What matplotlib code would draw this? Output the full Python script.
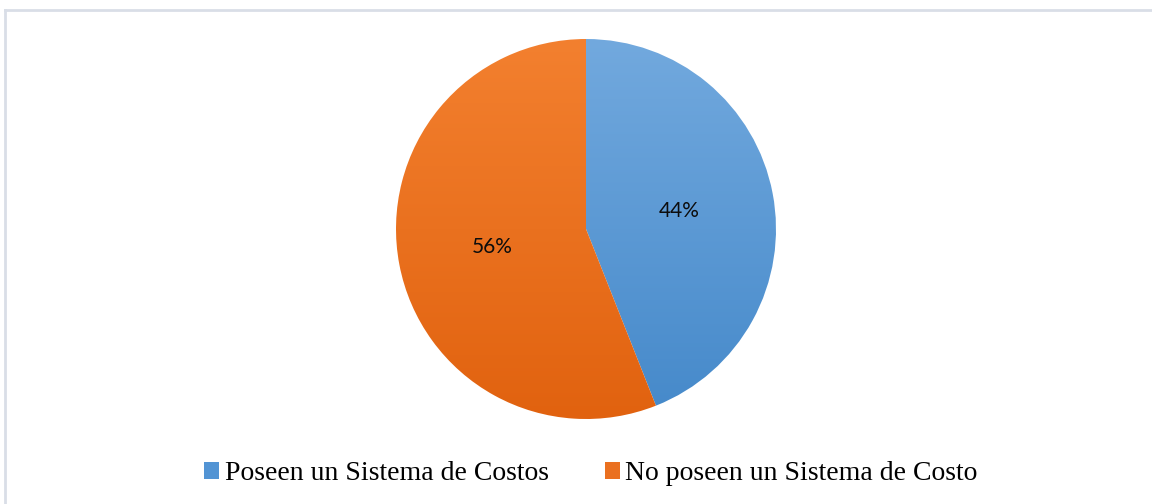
import numpy as np
import matplotlib
matplotlib.use("Agg")
import matplotlib.pyplot as plt
from matplotlib.colors import LinearSegmentedColormap
from matplotlib.patches import Patch
from matplotlib.lines import Line2D

categories = ["Poseen un Sistema de Costos", "No poseen un Sistema de Costo"]
values = [44, 56]
top_colors = ["#72A9DE", "#F3802F"]
bottom_colors = ["#4589CA", "#E1620F"]
legend_colors = ["#5294D4", "#EA7020"]

W, H, DPI = 1152, 504, 100
fig = plt.figure(figsize=(W / DPI, H / DPI), dpi=DPI)
fig.patch.set_facecolor("white")

# Pie axes: centre (586, 229) px, radius 190 px
cx, cy, r = 586, 229, 190
ax = fig.add_axes([(cx - r) / W, (H - cy - r) / H, 2 * r / W, 2 * r / H])
ax.set_xlim(-1, 1)
ax.set_ylim(-1, 1)
ax.set_aspect("equal")
ax.axis("off")

wedges, texts, autotexts = ax.pie(
    values, startangle=90, counterclock=False, radius=1,
    autopct=lambda p: f"{p:.0f}%", pctdistance=0.5,
    wedgeprops=dict(linewidth=0, edgecolor="none"),
    textprops=dict(fontsize=15, family=["Lato", "DejaVu Sans"], color="#0d0d0d"),
)

# Vertical gradient fill for each wedge
grad = np.linspace(0, 1, 256).reshape(-1, 1)
for w, c0, c1 in zip(wedges, top_colors, bottom_colors):
    w.set_facecolor("none")
    cmap = LinearSegmentedColormap.from_list("g", [c0, c1])
    im = ax.imshow(grad, cmap=cmap, extent=[-1, 1, -1, 1], origin="upper",
                   aspect="auto", zorder=0.5, interpolation="bilinear")
    im.set_clip_path(w)
for t in autotexts:
    t.set_zorder(3)
ax.set_xlim(-1, 1)
ax.set_ylim(-1, 1)

# Light frame along the top and left edges
frame_col = "#D9DEE7"
fig.add_artist(Line2D([5 / W, 5 / W], [0, 1 - 10 / H], transform=fig.transFigure,
                      color=frame_col, linewidth=2))
fig.add_artist(Line2D([5 / W, 1], [1 - 10 / H, 1 - 10 / H], transform=fig.transFigure,
                      color=frame_col, linewidth=2))

handles = [Patch(facecolor=c, edgecolor="none") for c in legend_colors]
fig.legend(handles, categories, loc="center", bbox_to_anchor=(591 / W, 1 - 474 / H),
           ncol=2, frameon=False,
           prop=dict(family=["Liberation Serif", "DejaVu Serif"], size=20),
           handlelength=0.55, handleheight=0.55, handletextpad=0.2,
           columnspacing=2.0, borderpad=0)

fig.savefig("out.png", dpi=DPI, facecolor="white")
